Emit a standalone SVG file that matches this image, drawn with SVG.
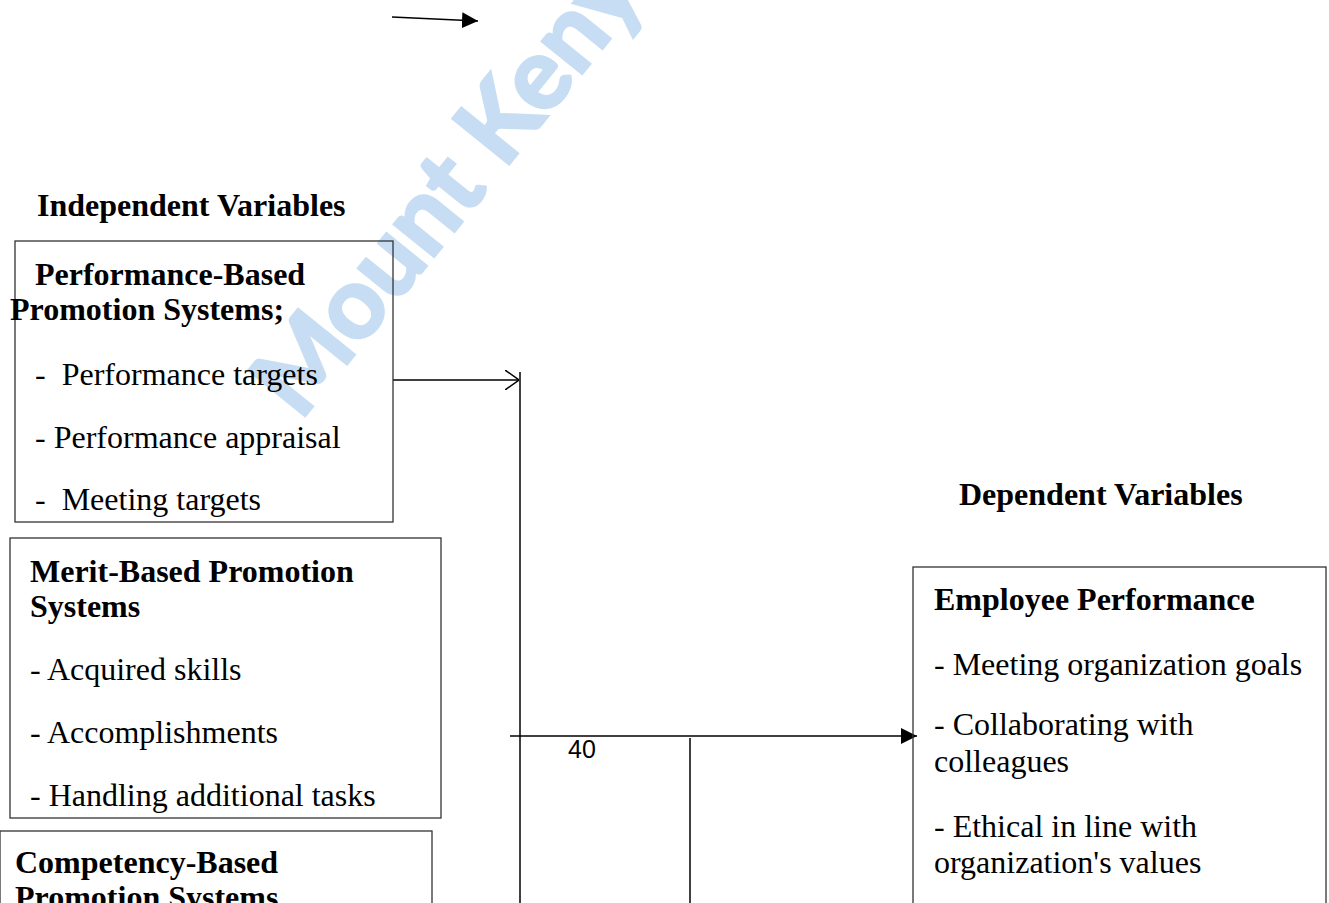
<svg xmlns="http://www.w3.org/2000/svg" width="1329" height="903" viewBox="0 0 1329 903">
<defs>
<style>
.t{font-family:"Liberation Serif","Times New Roman",serif;font-size:32px;fill:#000}
.b{font-weight:bold}
.box{fill:none;stroke:#333;stroke-width:1.3}
.ln{stroke:#000;stroke-width:1.5;fill:none}
.wm{font-family:Lato,"Liberation Sans",Arial,sans-serif;font-weight:bold;font-size:100px;fill:#c7ddf3;stroke:#c7ddf3;stroke-width:3}
</style>
<marker id="fillBig" viewBox="0 0 16 16" refX="16" refY="8" markerWidth="16" markerHeight="16" markerUnits="userSpaceOnUse" orient="auto">
<path d="M0,0 L16,8 L0,16 z" fill="#000"/>
</marker>
<marker id="open" viewBox="0 0 14 20" refX="14" refY="10" markerWidth="14" markerHeight="20" markerUnits="userSpaceOnUse" orient="auto">
<path d="M0,0 L14,10 L0,20" fill="none" stroke="#000" stroke-width="1.5"/>
</marker>
</defs>
<rect width="1329" height="903" fill="#fff"/>
<text class="wm" transform="translate(300,422) rotate(-51)">Mount Kenya</text>

<g id="connectors">
<line class="ln" x1="392" y1="17" x2="478" y2="21" marker-end="url(#fillBig)"/>
<line class="ln" x1="393" y1="380" x2="519" y2="380" marker-end="url(#open)"/>
<line class="ln" x1="520" y1="372" x2="520" y2="903"/>
<line class="ln" x1="510" y1="736" x2="917" y2="736" marker-end="url(#fillBig)"/>
<line class="ln" x1="690" y1="738" x2="690" y2="903" stroke-width="1.2"/>
</g>

<g id="label-independent">
<text class="t b" x="37" y="216">Independent Variables</text>
</g>
<g id="label-dependent">
<text class="t b" x="959" y="505">Dependent Variables</text>
</g>

<g id="node-performance">
<rect class="box" x="15" y="241" width="378" height="281"/>
<text class="t b" x="35" y="285">Performance-Based</text>
<text class="t b" x="10" y="320">Promotion Systems;</text>
<text class="t" x="35" y="385" xml:space="preserve">-  Performance targets</text>
<text class="t" x="35" y="448">- Performance appraisal</text>
<text class="t" x="35" y="510" xml:space="preserve">-  Meeting targets</text>
</g>

<g id="node-merit">
<rect class="box" x="10" y="538" width="431" height="280"/>
<text class="t b" x="30" y="582">Merit-Based Promotion</text>
<text class="t b" x="30" y="617">Systems</text>
<text class="t" x="30" y="680">- Acquired skills</text>
<text class="t" x="30" y="743">- Accomplishments</text>
<text class="t" x="30" y="806">- Handling additional tasks</text>
</g>

<g id="node-competency">
<rect class="box" x="0" y="831" width="432" height="100"/>
<text class="t b" x="15" y="873">Competency-Based</text>
<text class="t b" x="15" y="908">Promotion Systems</text>
</g>

<g id="page-number">
<text x="568" y="758" style="font-family:'Liberation Sans',Arial,sans-serif;font-size:25px;fill:#000">40</text>
</g>

<g id="node-employee">
<rect class="box" x="913" y="567" width="413" height="360"/>
<text class="t b" x="934" y="610">Employee Performance</text>
<text class="t" x="934" y="675">- Meeting organization goals</text>
<text class="t" x="934" y="735">- Collaborating with</text>
<text class="t" x="934" y="772">colleagues</text>
<text class="t" x="934" y="837">- Ethical in line with</text>
<text class="t" x="934" y="873">organization's values</text>
</g>
</svg>
